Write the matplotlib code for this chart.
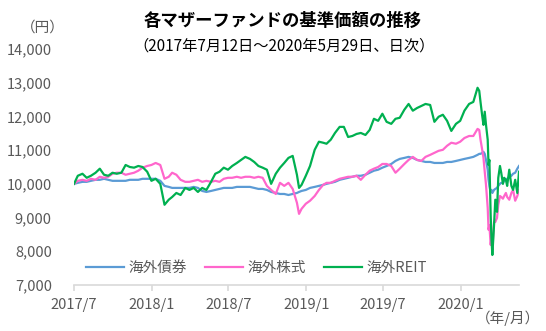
import matplotlib
matplotlib.use("Agg")
import matplotlib.pyplot as plt
import matplotlib.dates as mdates
import pandas as pd

plt.rcParams['font.family'] = ['Noto Sans CJK JP', 'DejaVu Sans']

# 日付(営業日の抜粋)
dates = [
    "2017-07-12", "2017-07-21", "2017-08-01", "2017-08-11", "2017-08-21",
    "2017-09-01", "2017-09-11", "2017-09-21", "2017-10-01", "2017-10-11",
    "2017-10-21", "2017-11-01", "2017-11-11", "2017-11-21", "2017-12-01",
    "2017-12-11", "2017-12-21", "2018-01-01", "2018-01-11", "2018-01-21",
    "2018-02-01", "2018-02-11", "2018-02-21", "2018-03-01", "2018-03-11",
    "2018-03-21", "2018-04-01", "2018-04-11", "2018-04-21", "2018-05-01",
    "2018-05-11", "2018-05-21", "2018-06-01", "2018-06-11", "2018-06-21",
    "2018-07-01", "2018-07-11", "2018-07-21", "2018-08-01", "2018-08-11",
    "2018-08-21", "2018-09-01", "2018-09-11", "2018-09-21", "2018-10-01",
    "2018-10-11", "2018-10-21", "2018-11-01", "2018-11-11", "2018-11-21",
    "2018-12-01", "2018-12-11", "2018-12-21", "2018-12-26", "2019-01-01",
    "2019-01-11", "2019-01-21", "2019-02-01", "2019-02-11", "2019-02-21",
    "2019-03-01", "2019-03-11", "2019-03-21", "2019-04-01", "2019-04-11",
    "2019-04-21", "2019-05-01", "2019-05-11", "2019-05-21", "2019-06-01",
    "2019-06-11", "2019-06-21", "2019-07-01", "2019-07-11", "2019-07-21",
    "2019-08-01", "2019-08-11", "2019-08-21", "2019-09-01", "2019-09-11",
    "2019-09-21", "2019-10-01", "2019-10-11", "2019-10-21", "2019-11-01",
    "2019-11-11", "2019-11-21", "2019-12-01", "2019-12-11", "2019-12-21",
    "2020-01-01", "2020-01-11", "2020-01-21", "2020-02-01", "2020-02-11",
    "2020-02-21", "2020-02-25", "2020-02-28", "2020-03-03", "2020-03-06",
    "2020-03-09", "2020-03-12", "2020-03-16", "2020-03-18", "2020-03-20",
    "2020-03-23", "2020-03-25", "2020-03-27", "2020-03-31", "2020-04-03",
    "2020-04-07", "2020-04-10", "2020-04-14", "2020-04-17", "2020-04-21",
    "2020-04-24", "2020-04-28", "2020-05-01", "2020-05-06", "2020-05-11",
    "2020-05-15", "2020-05-20", "2020-05-25", "2020-05-29",
]

# 海外債券
bond = [
    10000, 10030, 10060, 10060, 10090, 10120, 10120, 10150, 10120, 10090,
    10090, 10090, 10090, 10120, 10120, 10120, 10150, 10150, 10150, 10150,
    10090, 9940, 9910, 9880, 9880, 9880, 9880, 9880, 9910, 9880,
    9790, 9760, 9790, 9820, 9850, 9880, 9880, 9880, 9910, 9910,
    9910, 9910, 9880, 9850, 9850, 9820, 9760, 9730, 9700, 9700,
    9670, 9700, 9730, 9760, 9790, 9820, 9880, 9910, 9940, 9970,
    10000, 10030, 10060, 10120, 10150, 10180, 10210, 10240, 10240, 10270,
    10330, 10390, 10420, 10480, 10530, 10590, 10680, 10740, 10770, 10800,
    10770, 10710, 10680, 10650, 10650, 10620, 10620, 10620, 10650, 10650,
    10680, 10710, 10740, 10770, 10800, 10860, 10890, 10890, 10920, 10950,
    10890, 10710, 10420, 10120, 9940, 9760, 9820, 9730, 9820, 9850,
    9880, 9940, 10000, 10030, 10030, 10090, 10120, 10150, 10210, 10240,
    10300, 10330, 10450, 10530,
]

# 海外株式
equity = [
    10000, 10090, 10120, 10090, 10150, 10120, 10210, 10180, 10210, 10300,
    10330, 10330, 10270, 10300, 10330, 10390, 10480, 10530, 10560, 10620,
    10560, 10150, 10210, 10330, 10270, 10120, 10060, 10060, 10090, 10120,
    10060, 10090, 10060, 10090, 10060, 10150, 10180, 10180, 10210, 10180,
    10210, 10210, 10180, 10210, 10180, 9940, 9820, 9700, 10030, 9940,
    10030, 9850, 9440, 9110, 9260, 9410, 9500, 9640, 9820, 9970,
    10030, 10030, 10090, 10150, 10180, 10210, 10210, 10240, 10120, 10270,
    10390, 10450, 10500, 10590, 10590, 10530, 10330, 10450, 10590, 10710,
    10800, 10710, 10680, 10800, 10860, 10920, 10980, 11010, 11130, 11220,
    11190, 11250, 11360, 11420, 11420, 11630, 11600, 11310, 11010, 10770,
    10360, 9970, 9290, 8640, 8780, 8190, 8400, 8040, 8870, 8870,
    8990, 9380, 9640, 9610, 9560, 9640, 9730, 9610, 9530, 9730,
    9820, 9500, 9640, 9820,
]

# 海外REIT
reit = [
    10000, 10240, 10300, 10180, 10240, 10330, 10450, 10270, 10240, 10330,
    10300, 10330, 10560, 10500, 10480, 10530, 10500, 10360, 10090, 10150,
    10000, 9380, 9530, 9610, 9730, 9670, 9880, 9820, 9880, 9760,
    9880, 9820, 10060, 10300, 10360, 10480, 10420, 10530, 10620, 10710,
    10800, 10740, 10650, 10530, 10480, 10420, 10000, 10300, 10480, 10620,
    10770, 10830, 10270, 9880, 9970, 10240, 10530, 11010, 11250, 11220,
    11190, 11310, 11510, 11690, 11690, 11390, 11420, 11480, 11510, 11450,
    11600, 11930, 11870, 12080, 11840, 11780, 11930, 11960, 12200, 12370,
    12170, 12250, 12310, 12370, 12340, 11840, 11990, 12050, 11870, 11570,
    11780, 11870, 12170, 12370, 12430, 12850, 12760, 12430, 12020, 11750,
    12140, 11750, 11310, 10560, 10710, 9080, 8340, 7890, 8780, 9530,
    9170, 10180, 10530, 10330, 10000, 10180, 10120, 9940, 10420, 9940,
    9820, 10120, 9730, 10360,
]

series_names = ["海外債券", "海外株式", "海外REIT"]
series_colors = ["#5B9BD5", "#FF66CC", "#00B050"]

x = pd.to_datetime(dates)
text_gray = "#595959"

fig = plt.figure(figsize=(5.46, 3.31), dpi=100)
ax = fig.add_axes([74 / 546, 1 - 285 / 331, 445 / 546, 236 / 331])

for vals, name, col in zip([bond, equity, reit], series_names, series_colors):
    ax.plot(x, vals, color=col, lw=1.6, label=name)

ax.set_ylim(7000, 14000)
ax.set_yticks(range(7000, 14001, 1000))
ax.set_yticklabels([f"{v:,}" for v in range(7000, 14001, 1000)])
ax.set_xlim(pd.Timestamp("2017-07-12"), pd.Timestamp("2020-05-29"))

tick_dates = pd.to_datetime(["2017-07-12", "2018-01-12", "2018-07-12",
                             "2019-01-12", "2019-07-12", "2020-01-12"])
ax.set_xticks(tick_dates)
ax.set_xticklabels([d.strftime("%Y/") + str(d.month) for d in tick_dates])

for side in ["left", "right", "top"]:
    ax.spines[side].set_visible(False)
ax.spines["bottom"].set_color("#D9D9D9")
ax.spines["bottom"].set_linewidth(1.2)
ax.tick_params(axis="y", length=0, pad=16, labelsize=10.5, labelcolor=text_gray)
ax.tick_params(axis="x", length=4, width=1.2, color="#D9D9D9", pad=5,
               labelsize=10.5, labelcolor=text_gray)

ax.legend(loc="center left", bbox_to_anchor=(80 / 546, 1 - 268 / 331),
          bbox_transform=fig.transFigure, ncol=3, frameon=False,
          handlelength=2.6, handletextpad=0.35, columnspacing=1.2,
          labelcolor=text_gray, prop={"size": 10.5}, borderaxespad=0)

fig.text(283 / 546, 1 - 21 / 331, "各マザーファンドの基準価額の推移",
         ha="center", va="center", fontsize=12.5, fontweight="bold", color="black")
fig.text(284 / 546, 1 - 46 / 331, "（2017年7月12日～2020年5月29日、日次）",
         ha="center", va="center", fontsize=11, color="black")
fig.text(43 / 546, 1 - 28 / 331, "（円）", ha="center", va="center",
         fontsize=10.5, color=text_gray)
fig.text(508 / 546, 1 - 318 / 331, "（年/月）", ha="center", va="center",
         fontsize=10.5, color=text_gray)

fig.savefig("out.png", dpi=100)
